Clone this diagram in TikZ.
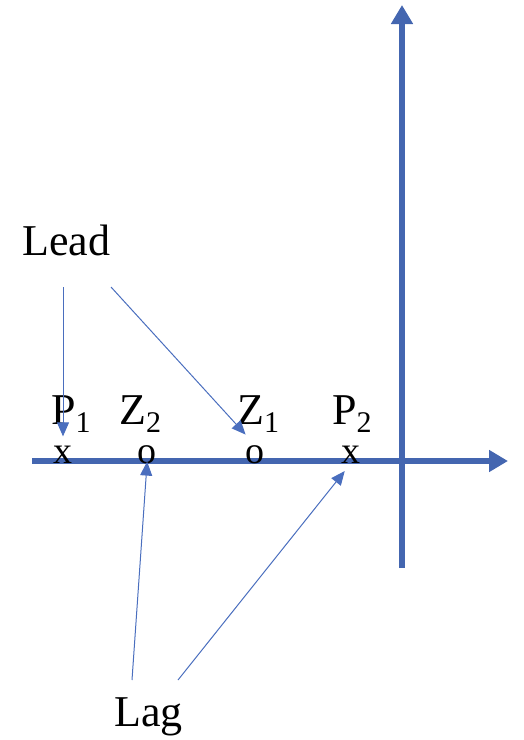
\documentclass[tikz,border=0pt]{standalone}
\usepackage{fontspec}
\setmainfont{Liberation Serif}
\usepackage{xcolor}
\definecolor{axisBlue}{HTML}{4466B0}
\definecolor{noteBlue}{HTML}{4A6EBE}
\usetikzlibrary{arrows.meta}
\newcommand{\bigfont}{\fontsize{44}{48}\selectfont}
\newcommand{\markfont}{\fontsize{38}{40}\selectfont}
\newcommand{\sublbl}[2]{#1\raisebox{-8pt}{\fontsize{30}{30}\selectfont #2}}
\tikzset{
    axis/.style={-{Triangle[length=19pt, width=21pt]}, line width=6.5pt, axisBlue},
    note/.style={-{Triangle[length=14pt, width=12pt]}, line width=1pt, noteBlue},
    word/.style={anchor=base west, inner sep=0pt, font=\bigfont},
    marker/.style={anchor=base, inner sep=0pt, font=\markfont},
}
\begin{document}
\begin{tikzpicture}[x=1pt, y=-1pt]
    \useasboundingbox (0,0) rectangle (524,740);
    % axes
    \coordinate (reW) at (32,461);
    \coordinate (reE) at (508,461);
    \coordinate (imS) at (402,568);
    \coordinate (imN) at (402,5);
    \draw[axis] (reW) -- (reE);
    \draw[axis] (imS) -- (imN);
    % poles and zeros
    \node[marker] (p1m) at (63,463) {x};
    \node[marker] (z2m) at (147,463) {o};
    \node[marker] (z1m) at (255,463) {o};
    \node[marker] (p2m) at (351,463) {x};
    \node[word] (p1) at (51,424) {\sublbl{P}{1}};
    \node[word] (z2) at (119,424) {\sublbl{Z}{2}};
    \node[word] (z1) at (237,424) {\sublbl{Z}{1}};
    \node[word] (p2) at (332,424) {\sublbl{P}{2}};
    % Lead and Lag notes
    \node[word] (lead) at (22,255) {Lead};
    \node[word] (lag) at (114,726) {Lag};
    \coordinate (leadA) at (63,287);
    \coordinate (leadB) at (111,287);
    \coordinate (lagA) at (132,680);
    \coordinate (lagB) at (178,680);
    \draw[note, shorten >=9pt] (leadA) -- (p1m.north);
    \draw[note, shorten >=14pt] (leadB) -- (z1m.north);
    \draw[note, shorten >=-2pt] (lagA) -- (z2m.south);
    \draw[note, shorten >=10pt] (lagB) -- (p2m.south);
\end{tikzpicture}
\end{document}
